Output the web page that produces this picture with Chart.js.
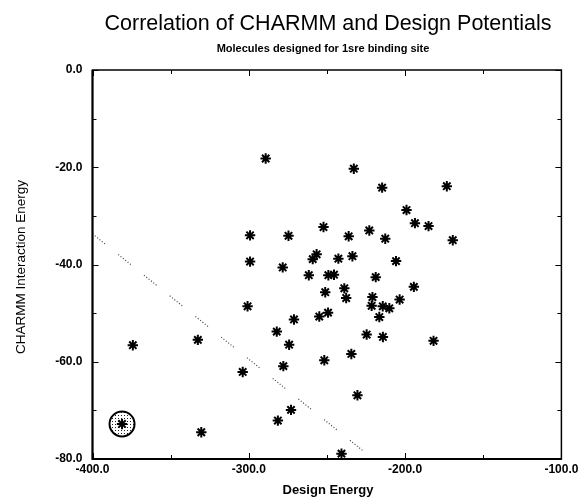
<!DOCTYPE html>
<html>
<head>
<meta charset="utf-8">
<script src="https://cdn.jsdelivr.net/npm/chart.js@4.4.1/dist/chart.umd.min.js"></script>
<style>
  html, body { margin: 0; padding: 0; background: #fff; }
  #wrap { width: 584px; height: 502px; }
</style>
</head>
<body>
<div id="wrap"><canvas id="c" width="584" height="502"></canvas></div>
<script>
// ---- data ----
const designEnergy = [
  -289.2, -299.2, -274.6, -252.2, -299.2, -256.6, -259.1, -232.8, -214.7, -173.3,
  -199.1, -193.7, -185.0, -236.1, -222.9, -212.7, -169.5, -242.7, -233.7, -205.8,
  -278.3, -261.6, -249.1, -245.5, -218.8, -251.1, -194.4, -238.9, -237.7, -220.9,
  -221.4, -214.3, -210.1, -216.5, -203.5, -300.8, -271.1, -254.9, -249.3, -282.1,
  -274.2, -374.2, -332.6, -224.6, -214.2, -181.8, -303.9, -277.9, -234.4, -251.7,
  -230.5, -273.0, -281.4, -330.4, -240.7, -381.1
];
const charmmEnergy = [
  -18.2, -34.0, -34.1, -32.3, -39.4, -37.9, -38.9, -20.3, -24.2, -23.9,
  -28.8, -31.5, -32.1, -34.2, -33.0, -34.7, -35.0, -38.8, -38.3, -39.3,
  -40.6, -42.2, -42.2, -42.1, -42.6, -45.7, -44.6, -44.9, -46.9, -46.7,
  -48.5, -48.6, -49.0, -50.8, -47.2, -48.6, -51.3, -50.7, -49.9, -53.8,
  -56.5, -56.6, -55.5, -54.4, -54.9, -55.7, -62.1, -60.9, -58.4, -59.7,
  -66.9, -69.9, -72.1, -74.5, -78.9, -72.8
];
const highlightX = [-381.1];
const highlightY = [-72.8];
const fitLineX = [-400, -220.4];
const fitLineY = [-33.7, -80.0];
const xMajorTicks = [-400, -300, -200, -100];
const yMajorTicks = [0, -20, -40, -60, -80];
const chartTitle = 'Correlation of CHARMM and Design Potentials';
const chartSubtitle = 'Molecules designed for 1sre binding site';
const xTitle = 'Design Energy';
const yTitle = 'CHARMM Interaction Energy';

// ---- stipple pattern for the highlighted point ----
const pc = document.createElement('canvas');
pc.width = 3; pc.height = 3;
const pctx = pc.getContext('2d');
pctx.fillStyle = '#fff'; pctx.fillRect(0, 0, 3, 3);
pctx.fillStyle = '#222'; pctx.fillRect(1, 1, 1, 1);
const stipple = pctx.createPattern(pc, 'repeat');

const FONT = '"Liberation Sans", Arial, Helvetica, sans-serif';

const frame = {
  id: 'frame',
  afterDatasetsDraw(chart) {
    const { ctx, chartArea: a, scales } = chart;
    ctx.save();
    ctx.strokeStyle = '#000';
    ctx.lineWidth = 1;
    ctx.beginPath();
    scales.x.ticks.forEach(t => {
      const px = Math.round(scales.x.getPixelForValue(t.value)) + 0.5;
      const len = xMajorTicks.includes(t.value) ? 6 : 4;
      ctx.moveTo(px, a.bottom); ctx.lineTo(px, a.bottom - len);
      ctx.moveTo(px, a.top); ctx.lineTo(px, a.top + len);
    });
    scales.y.ticks.forEach(t => {
      const py = Math.round(scales.y.getPixelForValue(t.value)) + 0.5;
      const len = yMajorTicks.includes(t.value) ? 6 : 4;
      ctx.moveTo(a.left, py); ctx.lineTo(a.left + len, py);
      ctx.moveTo(a.right, py); ctx.lineTo(a.right - len, py);
    });
    ctx.stroke();
    ctx.lineWidth = 1.5;
    ctx.strokeRect(a.left, a.top, a.right - a.left, a.bottom - a.top);
    ctx.lineWidth = 2;
    ctx.beginPath();
    ctx.moveTo(a.left, a.top); ctx.lineTo(a.left, a.bottom); ctx.lineTo(a.right, a.bottom);
    ctx.stroke();
    ctx.restore();
  },
  afterDraw(chart) {
    const { ctx } = chart;
    ctx.save();
    ctx.fillStyle = '#000';
    ctx.textAlign = 'center';
    ctx.textBaseline = 'middle';
    ctx.font = '21.5px ' + FONT;
    ctx.fillText(chartTitle, 328, 24);
    ctx.font = 'bold 11px ' + FONT;
    ctx.fillText(chartSubtitle, 323, 49);
    ctx.font = 'bold 13px ' + FONT;
    ctx.fillText(xTitle, 328, 490);
    ctx.translate(21, 267);
    ctx.rotate(-Math.PI / 2);
    ctx.font = '13.5px ' + FONT;
    ctx.fillText(yTitle, 0, 0);
    ctx.restore();
  }
};

new Chart(document.getElementById('c'), {
  type: 'scatter',
  data: {
    datasets: [
      {
        type: 'line',
        data: fitLineX.map((x, i) => ({ x, y: fitLineY[i] })),
        borderColor: 'rgba(0,0,0,0.75)',
        borderWidth: 1.2,
        borderDash: [1, 2, 1, 2, 1, 2, 1, 2, 1, 2, 1, 17],
        pointRadius: 0,
        fill: false,
        order: 3
      },
      {
        data: highlightX.map((x, i) => ({ x, y: highlightY[i] })),
        pointStyle: 'circle',
        pointRadius: 12.5,
        pointBackgroundColor: stipple,
        pointBorderColor: '#000',
        pointBorderWidth: 2,
        order: 2
      },
      {
        data: designEnergy.map((x, i) => ({ x, y: charmmEnergy[i] })),
        pointStyle: 'star',
        pointRadius: 5.2,
        pointBorderColor: '#000',
        pointBackgroundColor: '#000',
        pointBorderWidth: 2,
        order: 1
      }
    ]
  },
  options: {
    responsive: false,
    animation: false,
    events: [],
    layout: { padding: { top: 70, right: 22.6, left: 0, bottom: 0 } },
    plugins: { legend: { display: false }, tooltip: { enabled: false }, title: { display: false } },
    scales: {
      x: {
        type: 'linear', min: -400, max: -100,
        afterFit: s => { s.height = 43; },
        grid: { display: true, drawOnChartArea: false, drawTicks: false },
        border: { display: false },
        ticks: {
          stepSize: 50, autoSkip: false, maxRotation: 0, padding: 3,
          color: '#000', font: { family: FONT, size: 12, weight: 'bold' },
          callback: v => xMajorTicks.includes(v) ? v.toFixed(1) : ''
        }
      },
      y: {
        type: 'linear', min: -80, max: 0,
        afterFit: s => { s.width = 92.5; },
        grid: { display: true, drawOnChartArea: false, drawTicks: false },
        border: { display: false },
        ticks: {
          stepSize: 10, autoSkip: false, padding: 10,
          color: '#000', font: { family: FONT, size: 12, weight: 'bold' },
          callback: v => yMajorTicks.includes(v) ? v.toFixed(1) : ''
        }
      }
    }
  },
  plugins: [frame]
});
</script>
</body>
</html>
